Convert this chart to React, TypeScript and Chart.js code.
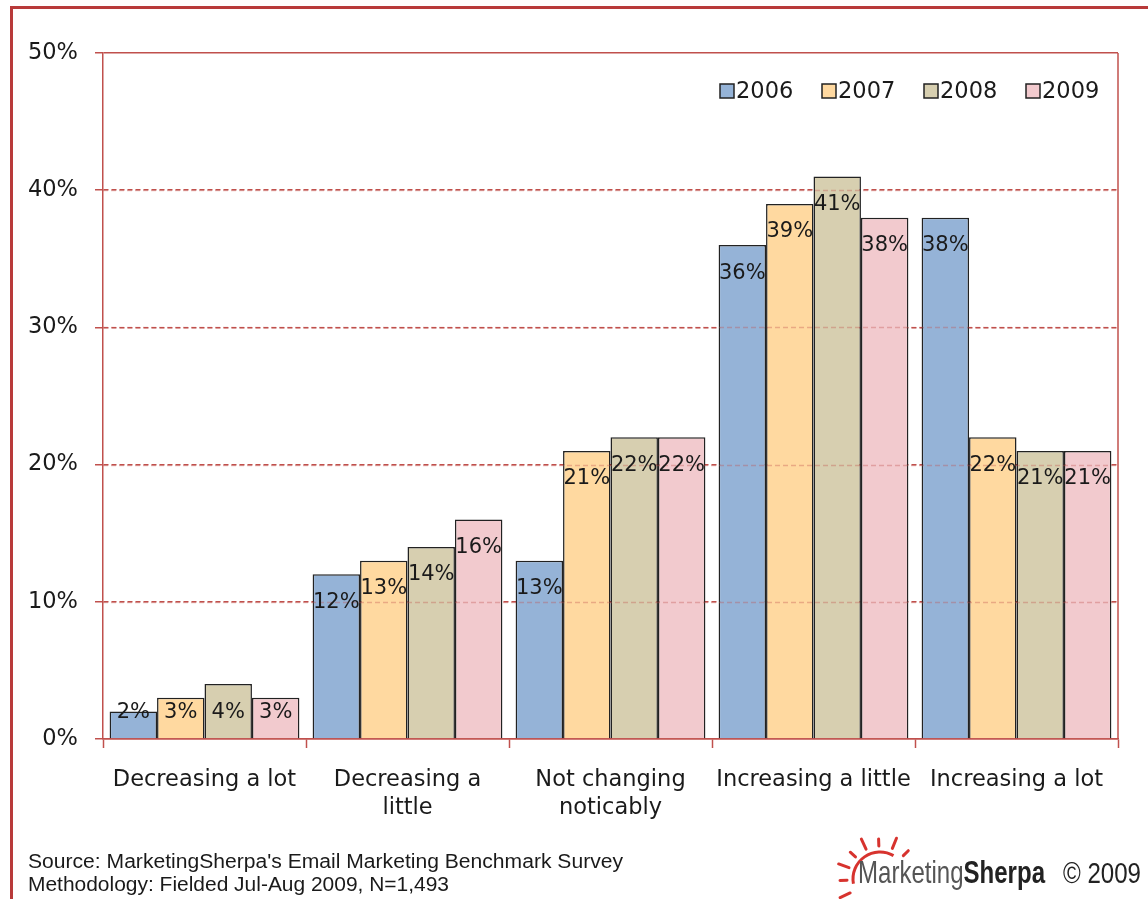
import React, { useEffect, useRef } from "react";
import { Chart, registerables } from "chart.js";

Chart.register(...registerables);

const categories: string[][] = [
  ["Decreasing a lot"],
  ["Decreasing a", "little"],
  ["Not changing", "noticably"],
  ["Increasing a little"],
  ["Increasing a lot"],
];
const years = ["2006", "2007", "2008", "2009"];
const values2006 = [2, 12, 13, 36, 38];
const values2007 = [3, 13, 21, 39, 22];
const values2008 = [4, 14, 22, 41, 21];
const values2009 = [3, 16, 22, 38, 21];
const yMax = 50;
const yStep = 10;
const sourceLines = [
  "Source: MarketingSherpa's Email Marketing Benchmark Survey",
  "Methodology: Fielded Jul-Aug 2009, N=1,493",
];

const barColors = ["#95B3D7", "#FFD9A0", "#D7CFB0", "#F2CACE"];
const RED = "#C0504D";
const FONT = "'DejaVu Sans', sans-serif";

const overlayPlugin = {
  id: "overlay",
  afterDatasetsDraw(chart: any) {
    const { ctx, chartArea } = chart;
    const yScale = chart.scales.y;
    ctx.save();
    // faint grid lines seen through bars
    ctx.strokeStyle = "rgba(192,80,77,0.35)";
    ctx.lineWidth = 1.5;
    ctx.setLineDash([5, 3]);
    for (let v = yStep; v < yMax; v += yStep) {
      const y = Math.round(yScale.getPixelForValue(v)) + 0.5;
      ctx.beginPath();
      ctx.moveTo(chartArea.left, y);
      ctx.lineTo(chartArea.right, y);
      ctx.stroke();
    }
    ctx.setLineDash([]);
    // right border of plot area
    ctx.strokeStyle = RED;
    ctx.lineWidth = 1.5;
    ctx.beginPath();
    ctx.moveTo(chartArea.right, chartArea.top);
    ctx.lineTo(chartArea.right, chartArea.bottom);
    ctx.stroke();
    // value labels
    ctx.font = `21px ${FONT}`;
    ctx.fillStyle = "#1a1a1a";
    ctx.textAlign = "center";
    ctx.textBaseline = "middle";
    chart.data.datasets.forEach((ds: any, di: number) => {
      const meta = chart.getDatasetMeta(di);
      meta.data.forEach((bar: any, i: number) => {
        const y = Math.min(bar.y + 28, chartArea.bottom - 26);
        ctx.fillText(ds.data[i] + "%", bar.x, y);
      });
    });
    // legend
    const startX = chartArea.right - 398;
    const cy = chartArea.top + 38;
    ctx.font = `22.5px ${FONT}`;
    ctx.textAlign = "left";
    chart.data.datasets.forEach((ds: any, di: number) => {
      const x = startX + di * 102;
      ctx.fillStyle = ds.backgroundColor;
      ctx.fillRect(x, cy - 7, 14, 14);
      ctx.strokeStyle = "#222";
      ctx.lineWidth = 1.5;
      ctx.strokeRect(x, cy - 7, 14, 14);
      ctx.fillStyle = "#1a1a1a";
      ctx.fillText(ds.label, x + 16, cy + 1);
    });
    ctx.restore();
  },
};

function Sun() {
  const cx = 880;
  const cy = 879;
  const r = 27;
  const rays = [155, 178, 200, 222, 245, 268, 292, 315];
  const pt = (a: number, rr: number) => {
    const rad = (a * Math.PI) / 180;
    return [cx + rr * Math.cos(rad), cy + rr * Math.sin(rad)];
  };
  const a0 = pt(170, r);
  const a1 = pt(300, r);
  return (
    <g>
      <path
        d={`M ${a0[0]} ${a0[1]} A ${r} ${r} 0 0 1 ${a1[0]} ${a1[1]}`}
        stroke="#D7332E"
        strokeWidth={3}
        fill="none"
      />
      {rays.map((a, i) => {
        const p0 = pt(a, r + 6);
        const p1 = pt(a, r + (i % 2 === 0 ? 17 : 13));
        return (
          <line
            key={i}
            x1={p0[0]}
            y1={p0[1]}
            x2={p1[0]}
            y2={p1[1]}
            stroke="#D7332E"
            strokeWidth={3}
            strokeLinecap="round"
          />
        );
      })}
    </g>
  );
}

export default function App() {
  const canvasRef = useRef<HTMLCanvasElement | null>(null);

  useEffect(() => {
    const canvas = canvasRef.current;
    if (!canvas) return;
    const data = {
      labels: categories,
      datasets: [values2006, values2007, values2008, values2009].map((vals, i) => ({
        label: years[i],
        data: vals,
        backgroundColor: barColors[i],
        borderColor: "#222",
        borderWidth: 1.5,
        categoryPercentage: 0.935,
        barPercentage: 1.0,
      })),
    };
    const chart = new Chart(canvas, {
      type: "bar",
      data,
      plugins: [overlayPlugin],
      options: {
        animation: false,
        responsive: false,
        devicePixelRatio: 1,
        layout: { padding: { left: 0, top: 53, right: 30, bottom: 0 } },
        plugins: {
          legend: { display: false },
          tooltip: { enabled: false },
          title: { display: false },
        },
        scales: {
          x: {
            afterFit: (s: any) => {
              s.height = 160;
            },
            grid: {
              display: true,
              drawOnChartArea: false,
              offset: true,
              tickLength: 9,
              tickColor: RED,
              tickWidth: 1.5,
              color: RED,
            },
            border: { color: RED, width: 1.5 },
            ticks: {
              font: { family: FONT, size: 22.5, lineHeight: 1.25 },
              color: "#1a1a1a",
              padding: 18,
              maxRotation: 0,
              autoSkip: false,
            },
          },
          y: {
            min: 0,
            max: yMax,
            afterFit: (s: any) => {
              s.width = 103;
            },
            grid: {
              color: RED,
              lineWidth: 1.5,
              tickLength: 8,
              tickColor: RED,
              tickWidth: 1.5,
            },
            border: {
              color: RED,
              width: 1.5,
              dash: (ctx: any) =>
                ctx.tick && ctx.tick.value > 0 && ctx.tick.value < yMax ? [5, 3] : [],
            },
            ticks: {
              stepSize: yStep,
              font: { family: FONT, size: 22.5 },
              color: "#1a1a1a",
              padding: 17,
              callback: (v: any) => v + "%",
            },
          },
        },
      } as any,
    });
    return () => chart.destroy();
  }, []);

  return (
    <div
      style={{
        position: "fixed",
        left: 0,
        top: 0,
        width: 1148,
        height: 899,
        background: "#fff",
        overflow: "hidden",
      }}
    >
      <div
        style={{
          position: "absolute",
          left: 10,
          top: 6,
          width: 1300,
          height: 1100,
          borderLeft: "3px solid #B83A3A",
          borderTop: "3px solid #B83A3A",
          boxSizing: "border-box",
        }}
      />
      <canvas
        ref={canvasRef}
        width={1148}
        height={899}
        style={{ position: "absolute", left: 0, top: 0, width: 1148, height: 899 }}
      />
      <svg
        width={1148}
        height={899}
        style={{ position: "absolute", left: 0, top: 0, pointerEvents: "none" }}
      >
        <text
          x={28}
          y={868}
          fontFamily="'Liberation Sans', Arial, sans-serif"
          fontSize={20}
          fill="#1a1a1a"
          textLength={595}
          lengthAdjust="spacingAndGlyphs"
        >
          {sourceLines[0]}
        </text>
        <text
          x={28}
          y={891}
          fontFamily="'Liberation Sans', Arial, sans-serif"
          fontSize={20}
          fill="#1a1a1a"
          textLength={421}
          lengthAdjust="spacingAndGlyphs"
        >
          {sourceLines[1]}
        </text>
        <Sun />
        <text
          x={858}
          y={883}
          fontFamily="'Liberation Sans', Arial, sans-serif"
          fontSize={32}
          textLength={187}
          lengthAdjust="spacingAndGlyphs"
        >
          <tspan fill="#555">Marketing</tspan>
          <tspan fill="#222" fontWeight="bold">Sherpa</tspan>
        </text>
        <text
          x={1063}
          y={883}
          fontFamily="'Liberation Sans', Arial, sans-serif"
          fontSize={29}
          fill="#222"
          textLength={78}
          lengthAdjust="spacingAndGlyphs"
        >
          © 2009
        </text>
      </svg>
    </div>
  );
}
